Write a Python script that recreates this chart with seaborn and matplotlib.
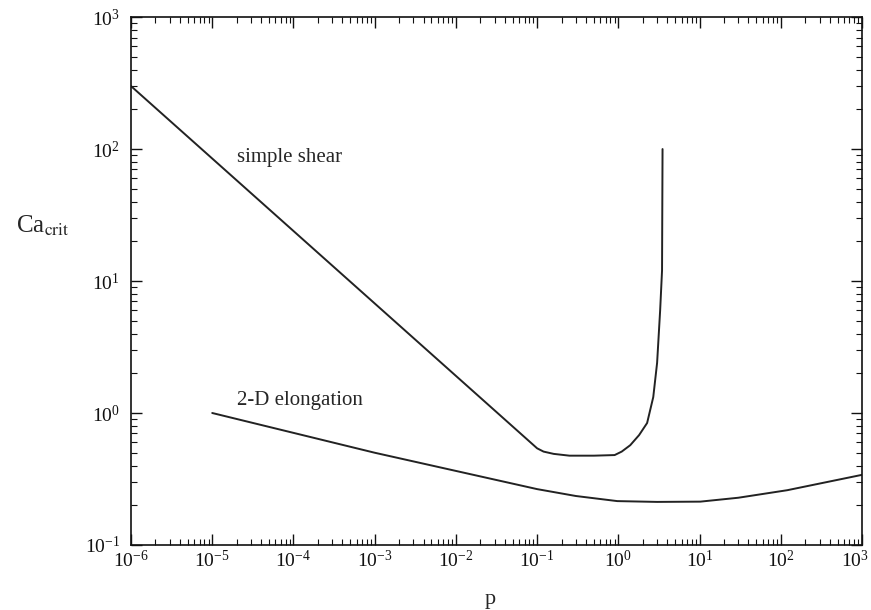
import numpy as np
import pandas as pd
import seaborn as sns
import matplotlib.pyplot as plt
from matplotlib.ticker import LogLocator, LogFormatterSciNotation, NullFormatter, FuncFormatter

# simple shear curve
shear_p = [1e-6, 0.1, 0.12, 0.16, 0.25, 0.5, 0.9, 1.1, 1.4, 1.8, 2.26,
           2.69, 3.0, 3.27, 3.45, 3.5]
shear_ca = [300, 0.54, 0.51, 0.49, 0.475, 0.475, 0.48, 0.51, 0.57, 0.68, 0.84,
            1.32, 2.4, 6.0, 12.0, 100]

# 2-D elongation curve
elong_p = [1e-5, 1e-3, 1e-1, 0.3, 0.97, 3.0, 10.2, 30, 120, 1000]
elong_ca = [1.0, 0.50, 0.265, 0.235, 0.215, 0.212, 0.213, 0.228, 0.26, 0.34]

shear = pd.DataFrame({"p": shear_p, "ca": shear_ca})
elong = pd.DataFrame({"p": elong_p, "ca": elong_ca})

sns.set_style("ticks")
plt.rcParams["font.family"] = ["Liberation Serif", "DejaVu Serif"]
plt.rcParams["mathtext.fontset"] = "stix"

fig = plt.figure(figsize=(8.71, 6.10), dpi=100)
ax = fig.add_axes([0.1504, 0.1066, 0.8393, 0.8654])

sns.lineplot(data=shear, x="p", y="ca", sort=False, estimator=None,
             color="#222222", linewidth=1.4, ax=ax)
sns.lineplot(data=elong, x="p", y="ca", sort=False, estimator=None,
             color="#222222", linewidth=1.4, ax=ax)

ax.set_xscale("log")
ax.set_yscale("log")
ax.set_xlim(1e-6, 1e3)
ax.set_ylim(1e-1, 1e3)

sci = LogFormatterSciNotation()
# last x label is drawn separately so it stays inside the figure
xfmt = FuncFormatter(lambda v, pos: "" if v >= 999 else sci(v, pos))

ax.xaxis.set_major_locator(LogLocator(base=10, numticks=20))
ax.xaxis.set_minor_locator(LogLocator(base=10, subs=np.arange(2, 10), numticks=20))
ax.yaxis.set_major_locator(LogLocator(base=10, numticks=20))
ax.yaxis.set_minor_locator(LogLocator(base=10, subs=np.arange(2, 10), numticks=20))
ax.xaxis.set_major_formatter(xfmt)
ax.yaxis.set_major_formatter(sci)
ax.xaxis.set_minor_formatter(NullFormatter())
ax.yaxis.set_minor_formatter(NullFormatter())

ax.tick_params(which="both", direction="in", top=True, right=True,
               labelsize=14, colors="#111111")
ax.tick_params(which="major", length=8, width=1)
ax.tick_params(which="minor", length=4, width=0.8)
ax.tick_params(axis="y", which="major", pad=8)
for s in ax.spines.values():
    s.set_linewidth(1.2)
    s.set_color("#111111")

ax.annotate(r"$\mathdefault{10^{3}}$", xy=(1e3, 0),
            xycoords=("data", "axes fraction"), xytext=(5, -3.5),
            textcoords="offset points", ha="right", va="top",
            fontsize=14, color="#111111", annotation_clip=False)

ax.text(2.0e-5, 87, "simple shear", fontsize=15, va="center", ha="left")
ax.text(2.0e-5, 1.25, "2-D elongation", fontsize=15, va="center", ha="left")

ax.set_xlabel("p", fontsize=16)
ax.xaxis.set_label_coords(0.491, -0.085)
ax.set_ylabel(r"Ca$_{\rm crit}$", fontsize=18, rotation=0, ha="center", va="center")
ax.yaxis.set_label_coords(-0.12, 0.604)

fig.savefig("out.png", dpi=100)
